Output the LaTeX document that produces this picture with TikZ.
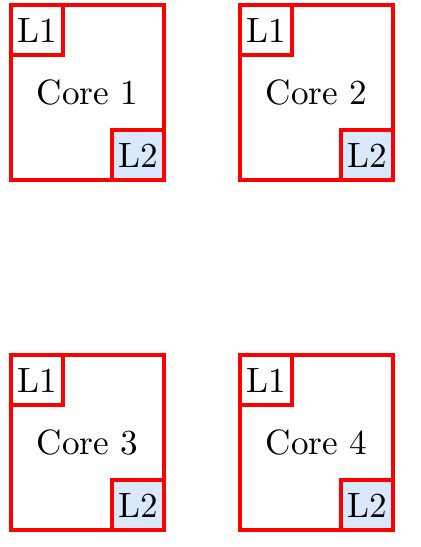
\documentclass[tikz,border=0pt]{standalone}
\usepackage{tikz}
\usepackage{xcolor}
\definecolor{cachefill}{HTML}{DAE8FC}

\begin{document}
\begin{tikzpicture}[core/.style={draw=red, line width=1pt, minimum width=1.53cm, minimum height=1.75cm},
  cache/.style={draw=red, line width=1pt, minimum width=0.52cm, minimum height=0.5cm, inner sep=1pt}]
  \useasboundingbox (0,0) rectangle (4.21,-5.47);
  \node[core] (core1) at (0.875,-0.925) {Core 1};
  \node[core] (core2) at (3.165,-0.925) {Core 2};
  \node[core] (core3) at (0.875,-4.425) {Core 3};
  \node[core] (core4) at (3.165,-4.425) {Core 4};
  \node[cache, anchor=north west] (l1a) at (core1.north west) {L1};
  \node[cache, anchor=north west] (l1b) at (core2.north west) {L1};
  \node[cache, anchor=north west] (l1c) at (core3.north west) {L1};
  \node[cache, anchor=north west] (l1d) at (core4.north west) {L1};
  \node[cache, fill=cachefill, anchor=south east] (l2a) at (core1.south east) {L2};
  \node[cache, fill=cachefill, anchor=south east] (l2b) at (core2.south east) {L2};
  \node[cache, fill=cachefill, anchor=south east] (l2c) at (core3.south east) {L2};
  \node[cache, fill=cachefill, anchor=south east] (l2d) at (core4.south east) {L2};
\end{tikzpicture}
\end{document}
